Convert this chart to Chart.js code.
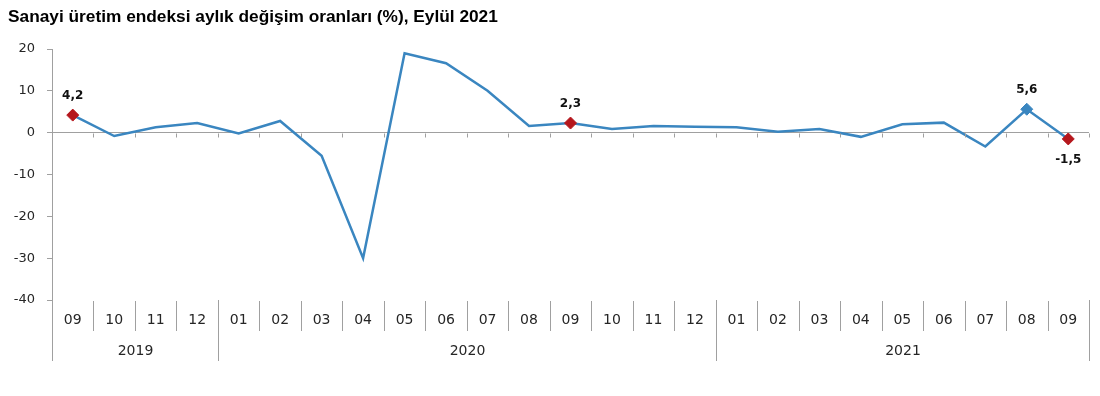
<!DOCTYPE html>
<html>
<head>
<meta charset="utf-8">
<script src="https://cdn.jsdelivr.net/npm/chart.js@4.4.0/dist/chart.umd.min.js"></script>
<style>
  html, body { margin: 0; padding: 0; background: #fff; }
  #wrap { position: relative; width: 1100px; height: 396px; }
  #title {
    position: absolute; left: 8px; top: 6px;
    font: bold 17.3px "Liberation Sans", Arial, sans-serif; color: #000;
  }
  canvas { position: absolute; left: 0; top: 0; }
</style>
</head>
<body>
<div id="wrap">
  <canvas id="chart" width="1100" height="396"></canvas>
  <div id="title">Sanayi üretim endeksi aylık değişim oranları (%), Eylül 2021</div>
</div>
<script>
const MONTHS = ["09", "10", "11", "12",
  "01", "02", "03", "04", "05", "06", "07", "08", "09", "10", "11", "12",
  "01", "02", "03", "04", "05", "06", "07", "08", "09"];
const YEARS = ["2019", "2020", "2021"];
const YEAR_MONTH_COUNT = [4, 12, 9];
const CHANGE = [4.2, -0.8, 1.3, 2.3,
  -0.2, 2.8, -5.5, -30.0, 19.0, 16.6, 10.0, 1.6, 2.3, 0.9, 1.6, 1.4,
  1.3, 0.2, 0.9, -1.0, 2.0, 2.4, -3.3, 5.6, -1.5];
const Y_TICKS = [20, 10, 0, -10, -20, -30, -40];

// points with a marker and a value label
const RED_POINTS = [0, 12, 24];
const BLUE_POINTS = [23];

const LINE_COLOR = "#3a86c0";
const RED = "#b5171d";
const AXIS_GREY = "#a0a0a0";
const TEXT = "#262626";

function formatTr(v) {
  return v.toFixed(1).replace(".", ",");
}

function markerColor(i) {
  if (RED_POINTS.includes(i)) return RED;
  if (BLUE_POINTS.includes(i)) return LINE_COLOR;
  return "transparent";
}

function hasMarker(i) {
  return RED_POINTS.includes(i) || BLUE_POINTS.includes(i);
}

const decorPlugin = {
  id: "decor",
  afterDatasetsDraw(chart) {
    const { ctx, chartArea, scales } = chart;
    const x = scales.x;
    const y = scales.y;
    const zeroY = Math.round(y.getPixelForValue(0)) + 0.5;
    const step = x.getPixelForValue(1) - x.getPixelForValue(0);
    const boundary = (i) => Math.round(x.getPixelForValue(0) - step / 2 + i * step) + 0.5;

    ctx.save();
    ctx.strokeStyle = AXIS_GREY;
    ctx.lineWidth = 1;

    // small ticks on the zero line
    for (let i = 1; i <= MONTHS.length; i++) {
      ctx.beginPath();
      ctx.moveTo(boundary(i), zeroY);
      ctx.lineTo(boundary(i), zeroY + 4);
      ctx.stroke();
    }

    // separators below the plot
    const yearEdges = [0];
    YEAR_MONTH_COUNT.forEach((n) => yearEdges.push(yearEdges[yearEdges.length - 1] + n));
    const bottom = chartArea.bottom;
    for (let i = 0; i <= MONTHS.length; i++) {
      const isYear = yearEdges.includes(i);
      ctx.beginPath();
      ctx.moveTo(boundary(i), bottom + (isYear ? 0 : 1));
      ctx.lineTo(boundary(i), bottom + (isYear ? 61 : 31));
      ctx.stroke();
    }

    // year labels
    ctx.fillStyle = TEXT;
    ctx.font = "14px 'DejaVu Sans'";
    ctx.textAlign = "center";
    ctx.textBaseline = "middle";
    YEARS.forEach((yr, k) => {
      const cx = (boundary(yearEdges[k]) + boundary(yearEdges[k + 1])) / 2;
      ctx.fillText(yr, cx, bottom + 51);
    });

    // value labels
    const meta = chart.getDatasetMeta(0);
    ctx.fillStyle = "#111";
    ctx.font = "bold 12px 'DejaVu Sans'";
    CHANGE.forEach((v, i) => {
      if (!hasMarker(i)) return;
      const pt = meta.data[i];
      const dy = v >= 0 ? -19 : 21;
      ctx.fillText(formatTr(v), pt.x, pt.y + dy);
    });
    ctx.restore();
  },
};

new Chart(document.getElementById("chart"), {
  type: "line",
  data: {
    labels: MONTHS,
    datasets: [{
      data: CHANGE,
      borderColor: LINE_COLOR,
      borderWidth: 2.5,
      tension: 0,
      pointStyle: "rectRot",
      pointRadius: (c) => (hasMarker(c.dataIndex) ? 6 : 0),
      pointBackgroundColor: (c) => markerColor(c.dataIndex),
      pointBorderColor: (c) => markerColor(c.dataIndex),
      pointBorderWidth: 1,
    }],
  },
  options: {
    responsive: false,
    animation: false,
    layout: { padding: { top: 49, right: 11, left: 0, bottom: 0 } },
    plugins: {
      legend: { display: false },
      tooltip: { enabled: false },
    },
    scales: {
      x: {
        offset: true,
        grid: { display: false, drawTicks: false },
        border: { display: false },
        ticks: {
          color: TEXT,
          font: { family: "DejaVu Sans", size: 14 },
          padding: 12,
          maxRotation: 0,
          autoSkip: false,
        },
        afterFit(scale) { scale.height = 96; },
      },
      y: {
        min: -40,
        max: 20,
        afterBuildTicks(scale) {
          scale.ticks = Y_TICKS.map((v) => ({ value: v }));
        },
        grid: {
          drawOnChartArea: true,
          color: (c) => (c.tick && c.tick.value === 0 ? AXIS_GREY : "transparent"),
          tickColor: AXIS_GREY,
          tickLength: 5,
        },
        border: { display: true, color: AXIS_GREY },
        ticks: {
          color: TEXT,
          font: { family: "DejaVu Sans", size: 13 },
          padding: 12,
        },
        afterFit(scale) { scale.width = 52; },
      },
    },
  },
  plugins: [decorPlugin],
});
</script>
</body>
</html>
